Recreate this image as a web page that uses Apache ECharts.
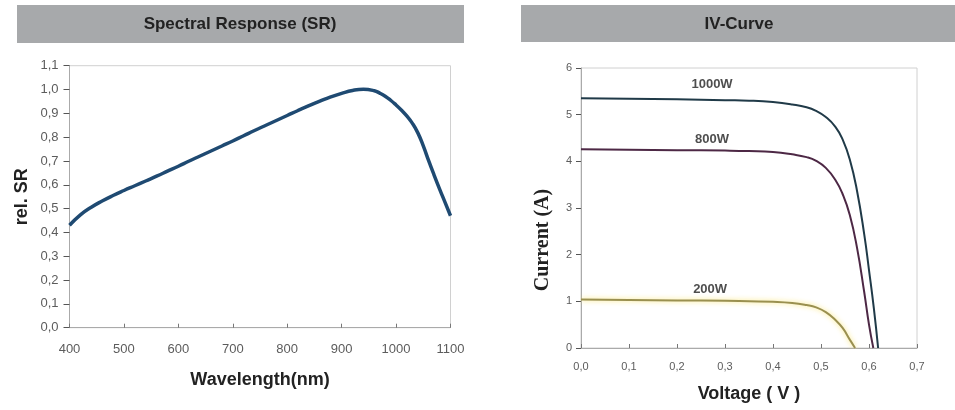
<!DOCTYPE html>
<html>
<head>
<meta charset="utf-8">
<script src="https://cdn.jsdelivr.net/npm/echarts@6/dist/echarts.min.js"></script>
<style>html,body{margin:0;padding:0;background:#fff;}#c{width:955px;height:410px;}</style>
</head>
<body>
<div id="c"></div>
<script>
// Spectral response
var srWavelength = [400,420,440,460,480,500,520,540,560,580,600,620,640,660,680,700,720,740,760,780,800,820,840,860,880,900,920,940,960,970,980,990,1000,1010,1020,1030,1040,1050,1060,1070,1080,1090,1100];
var srValue = [0.43,0.474,0.506,0.532,0.555,0.576,0.596,0.616,0.636,0.657,0.678,0.70,0.721,0.742,0.763,0.784,0.806,0.828,0.849,0.87,0.891,0.912,0.932,0.951,0.969,0.984,0.996,1.001,0.995,0.985,0.972,0.955,0.935,0.913,0.888,0.858,0.818,0.763,0.70,0.64,0.582,0.526,0.47];
var srYTicks = ['0,0','0,1','0,2','0,3','0,4','0,5','0,6','0,7','0,8','0,9','1,0','1,1'];
var srXTicks = ['400','500','600','700','800','900','1000','1100'];

// IV curves
var iv1000V = [0,0.1,0.2,0.3,0.35,0.4,0.44,0.47,0.49,0.51,0.53,0.545,0.56,0.575,0.59,0.6,0.61,0.619];
var iv1000I = [5.35,5.34,5.33,5.31,5.30,5.27,5.22,5.16,5.08,4.95,4.74,4.47,4.04,3.37,2.44,1.67,0.86,0];
var iv800V = [0,0.1,0.2,0.3,0.35,0.4,0.44,0.47,0.49,0.51,0.53,0.545,0.56,0.575,0.59,0.6,0.609];
var iv800I = [4.26,4.25,4.24,4.23,4.22,4.2,4.15,4.09,4.01,3.86,3.6,3.3,2.85,2.15,1.2,0.5,0];
var iv200V = [0,0.1,0.2,0.3,0.35,0.4,0.44,0.47,0.49,0.51,0.53,0.545,0.56,0.571];
var iv200I = [1.04,1.03,1.02,1.01,1.0,0.99,0.965,0.92,0.87,0.77,0.6,0.43,0.18,0];
var ivXTicks = ['0,0','0,1','0,2','0,3','0,4','0,5','0,6','0,7'];
var ivYTicks = ['0','1','2','3','4','5','6'];
var ivLabels = ['1000W','800W','200W'];
var ivLabelV = [0.273,0.273,0.269];
var ivLabelI = [5.64,4.48,1.25];

function pairs(a,b){return a.map(function(v,i){return [v,b[i]];});}

var chart = echarts.init(document.getElementById('c'), null, {renderer:'canvas'});
var font = 'Liberation Sans, Arial, sans-serif';
var axisCommon = {
  axisLine:{show:true,lineStyle:{color:'#aaa',width:1}},
  splitLine:{show:false}
};
chart.setOption({
  animation:false,
  backgroundColor:'#fff',
  graphic:[
    {type:'rect',shape:{x:17,y:5,width:447,height:38},style:{fill:'#a7a9ab'}},
    {type:'text',x:240,y:24,style:{text:'Spectral Response (SR)',fill:'#222',font:'bold 17px '+font,textAlign:'center',textVerticalAlign:'middle'}},
    {type:'rect',shape:{x:521,y:5,width:434,height:37},style:{fill:'#a7a9ab'}},
    {type:'text',x:739,y:24,style:{text:'IV-Curve',fill:'#222',font:'bold 17px '+font,textAlign:'center',textVerticalAlign:'middle'}},
    {type:'text',x:543,y:240,rotation:Math.PI/2,style:{text:'Current (A)',fill:'#222',font:'bold 20px Liberation Serif, Times New Roman, serif',textAlign:'center',textVerticalAlign:'middle'}}
  ],
  grid:[
    {left:69.5,top:65.7,width:381,height:262,show:true,borderColor:'#d0d0d0',borderWidth:1,backgroundColor:'transparent'},
    {left:581,top:68,width:336,height:280,show:true,borderColor:'#d0d0d0',borderWidth:1,backgroundColor:'transparent'}
  ],
  xAxis:[
    Object.assign({},axisCommon,{gridIndex:0,type:'value',min:400,max:1100,interval:100,
      axisTick:{show:true,inside:true,length:4,lineStyle:{color:'#777'}},
      axisLabel:{margin:15,color:'#5c5c5c',fontSize:13,fontFamily:font,formatter:function(v){return srXTicks[Math.round((v-400)/100)];}},
      name:'Wavelength(nm)',nameLocation:'middle',nameGap:43,nameTextStyle:{color:'#222',fontSize:18,fontWeight:'bold',fontFamily:font}}),
    Object.assign({},axisCommon,{gridIndex:1,type:'value',min:0,max:0.7,interval:0.1,
      axisTick:{show:true,inside:true,length:4,lineStyle:{color:'#777'}},
      axisLabel:{margin:13,color:'#5c5c5c',fontSize:11,fontFamily:font,formatter:function(v){return ivXTicks[Math.round(v*10)];}},
      name:'Voltage ( V )',nameLocation:'middle',nameGap:37,nameTextStyle:{color:'#222',fontSize:18,fontWeight:'bold',fontFamily:font}})
  ],
  yAxis:[
    Object.assign({},axisCommon,{gridIndex:0,type:'value',min:0,max:1.1,interval:0.1,
      axisTick:{show:true,inside:false,length:6,lineStyle:{color:'#555'}},
      axisLabel:{margin:11,color:'#5c5c5c',fontSize:13,fontFamily:font,formatter:function(v){return srYTicks[Math.round(v*10)];}},
      name:'rel. SR',nameLocation:'middle',nameGap:38,nameTextStyle:{color:'#222',fontSize:18,fontWeight:'bold',fontFamily:font}}),
    Object.assign({},axisCommon,{gridIndex:1,type:'value',min:0,max:6,interval:1,
      axisTick:{show:true,inside:false,length:5,lineStyle:{color:'#555'}},
      axisLabel:{margin:9,color:'#5c5c5c',fontSize:11,fontFamily:font,formatter:function(v){return ivYTicks[Math.round(v)];}}})
  ],
  series:[
    {type:'line',xAxisIndex:0,yAxisIndex:0,data:pairs(srWavelength,srValue),smooth:0.5,showSymbol:false,
      lineStyle:{color:'#1f4a72',width:3.5}},
    {type:'line',xAxisIndex:1,yAxisIndex:1,data:pairs(iv1000V,iv1000I),smooth:0.5,showSymbol:false,
      lineStyle:{color:'#203a48',width:2}},
    {type:'line',xAxisIndex:1,yAxisIndex:1,data:pairs(iv800V,iv800I),smooth:0.5,showSymbol:false,
      lineStyle:{color:'#4d2845',width:2}},
    {type:'line',xAxisIndex:1,yAxisIndex:1,data:pairs(iv200V,iv200I),smooth:0.5,showSymbol:false,
      lineStyle:{color:'#9a9050',width:2,shadowColor:'rgba(250,225,90,0.9)',shadowBlur:5}},
    {type:'scatter',xAxisIndex:1,yAxisIndex:1,symbolSize:0,silent:true,
      data:ivLabels.map(function(n,i){return {name:n,value:[ivLabelV[i],ivLabelI[i]]};}),
      label:{show:true,position:'inside',formatter:'{b}',color:'#222',fontSize:13,fontWeight:'bold',fontFamily:font}}
  ]
});
</script>
</body>
</html>
